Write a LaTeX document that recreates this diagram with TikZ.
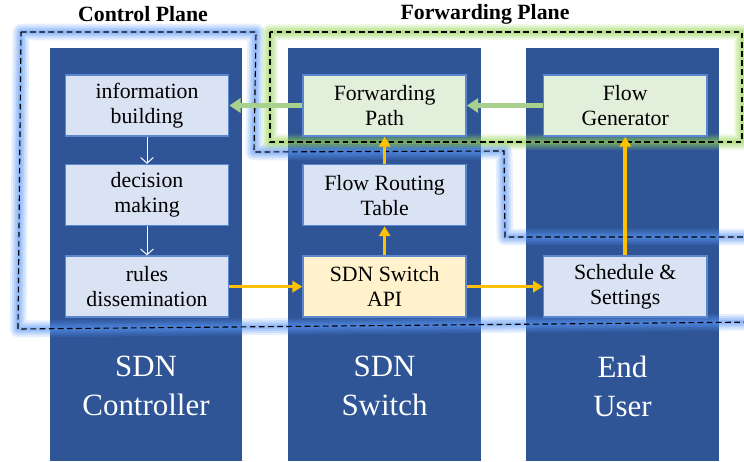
\documentclass[tikz,border=0pt]{standalone}
\usepackage{fontspec}
\setmainfont{Liberation Serif}
\usetikzlibrary{arrows.meta, positioning}
\definecolor{sdnBlue}{RGB}{47, 85, 151}
\definecolor{sdnEdge}{RGB}{91, 134, 208}
\definecolor{sdnLight}{RGB}{218, 227, 243}
\definecolor{sdnGreen}{RGB}{226, 239, 218}
\definecolor{sdnYellow}{RGB}{255, 242, 204}
\definecolor{sdnOrange}{RGB}{255, 192, 0}
\definecolor{sdnLeaf}{RGB}{169, 209, 142}
\definecolor{glowBlue}{RGB}{90, 150, 245}
\definecolor{glowGreen}{RGB}{146, 208, 80}

\begin{document}
\begin{tikzpicture}[x=0.025cm, y=-0.025cm,
  node distance=0.675cm and 1.825cm,
  column/.style={rectangle, fill=sdnBlue, minimum width=4.8cm,
                 minimum height=10.325cm, inner sep=0pt},
  block/.style={rectangle, draw=sdnEdge, line width=1.1pt, fill=sdnLight,
                minimum width=4.075cm, minimum height=1.525cm, inner sep=1pt,
                align=center, font=\fontsize{15.5}{17.8}\selectfont},
  fwdblock/.style={block, fill=sdnGreen},
  apiblock/.style={block, fill=sdnYellow},
  collabel/.style={text=white, align=center, font=\fontsize{22}{27.7}\selectfont},
  plane/.style={font=\bfseries\fontsize{15.5}{18}\selectfont},
  glow/.style={line width=#1, line join=round},
  frame/.style={dash pattern=on 4pt off 2.5pt, line width=0.8pt, black},
  leafarrow/.style={-{Triangle[length=8pt, width=10pt]}, line width=3.2pt, sdnLeaf},
  sunarrow/.style={-{Triangle[length=7pt, width=8pt]}, line width=2.5pt, sdnOrange},
  downarrow/.style={-{Straight Barb[length=4pt, width=9pt]}, line width=0.7pt, white},
]
  \useasboundingbox (0,0) rectangle (744,461);

  % columns
  \node[column] (ctrl) at (146,254.5) {};
  \node[column] (switch) at (384.5,254.5) {};
  \node[column] (user) at (622.5,254.5) {};

  \node[collabel] (ctrlname) at (146,386) {SDN\\Controller};
  \node[collabel] (switchname) at (384.5,386) {SDN\\Switch};
  \node[collabel] (username) at (622.5,386) {End\\User};

  \node[plane] (ctrlplane) at (143,14) {Control Plane};
  \node[plane] (fwdplane) at (485,14) {Forwarding Plane};

  % plane outlines with glow
  \foreach \w/\o in {12pt/0.15, 9pt/0.2, 6pt/0.25, 3pt/0.3} {
    \draw[glow=\w, draw=glowBlue, opacity=\o]
      (21,32) -- (256,32) -- (254,152) -- (504,151) -- (505,237) -- (760,237)
      -- (760,322) -- (18,329) -- cycle;
    \draw[glow=\w, draw=glowGreen, opacity=\o] (270,32) rectangle (742,142);
  }
  \draw[frame] (21,32) -- (256,32) -- (254,152) -- (504,151) -- (505,237)
    -- (760,237) -- (760,322) -- (18,329) -- cycle;
  \draw[frame] (270,32) rectangle (742,142);

  % blocks
  \node[block] (info) at (147,105.5) {information\\building};
  \node[block, below=0.675cm of info] (decision) {decision\\making};
  \node[block, below=0.725cm of decision] (rules) {rules\\dissemination};

  \node[fwdblock, right=1.825cm of info] (path) {Forwarding\\Path};
  \node[block, below=0.675cm of path] (table) {Flow Routing\\Table};
  \node[apiblock, below=0.725cm of table] (api) {SDN Switch\\API};

  \node[fwdblock, right=1.9cm of path] (gen) {Flow\\Generator};
  \node[block, right=1.9cm of api] (sched) {Schedule \&\\Settings};

  % connectors
  \draw[downarrow] (info) -- (decision);
  \draw[downarrow] (decision) -- (rules);
  \draw[leafarrow] (path) -- (info);
  \draw[leafarrow] (gen) -- (path);
  \draw[sunarrow] (rules) -- (api);
  \draw[sunarrow] (api) -- (table);
  \draw[sunarrow] (table) -- (path);
  \draw[sunarrow] (api) -- (sched);
  \draw[sunarrow] (sched) -- (gen);
\end{tikzpicture}
\end{document}
